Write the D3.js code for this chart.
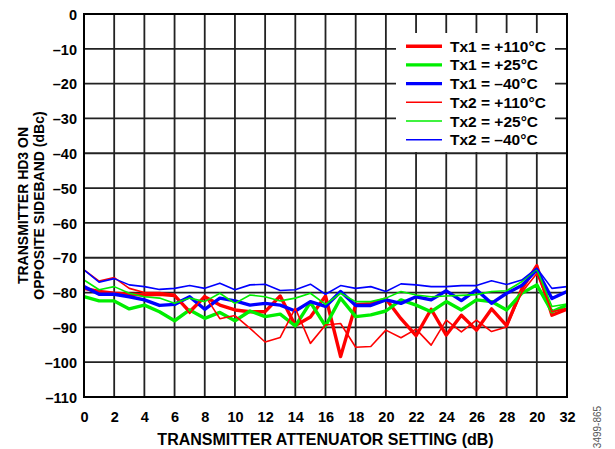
<!DOCTYPE html>
<html>
<head>
<meta charset="utf-8">
<script src="https://cdn.jsdelivr.net/npm/d3@7"></script>
<style>
  html, body { margin: 0; padding: 0; background: #fff; }
  svg { display: block; font-family: "Liberation Sans", Arial, Helvetica, sans-serif; }
</style>
</head>
<body>
<svg id="chart" width="615" height="449"></svg>
<script>
// Attenuator settings (dB) and HD3 on opposite sideband (dBc) per transmitter/temperature
const attenuation = d3.range(0, 33);

const tx1Hot  = [-78.8, -79.7, -80.2, -80.5, -80.7, -80.5, -80.9, -85.5, -81.2, -83.6, -85.0, -85.5, -85.5, -81.0, -89.5, -87.0, -81.0,
                 -98.4, -83.5, -83.2, -81.8, -87.5, -92.4, -84.8, -92.2, -86.5, -90.8, -84.7, -89.5, -79.0, -72.3, -86.5, -84.8];
const tx1Room = [-81.2, -82.4, -82.4, -84.7, -83.6, -85.5, -88.1, -85.0, -87.4, -85.7, -88.1, -85.3, -86.9, -86.2, -89.6, -82.8, -89.6,
                 -81.6, -86.9, -86.4, -85.3, -82.1, -83.6, -85.5, -82.6, -85.0, -82.1, -82.6, -85.0, -80.2, -77.8, -85.5, -83.6];
const tx1Cold = [-78.3, -80.5, -80.5, -81.2, -82.1, -83.7, -83.4, -81.2, -84.8, -81.6, -82.4, -83.6, -83.1, -83.6, -85.3, -82.6, -84.0,
                 -79.7, -83.7, -83.7, -82.1, -83.1, -81.2, -82.1, -79.5, -82.3, -79.2, -83.1, -80.2, -78.0, -73.5, -81.7, -79.7];
const tx2Hot  = [-73.5, -76.7, -75.7, -78.8, -80.0, -80.0, -80.5, -86.0, -80.8, -87.5, -86.6, -90.3, -94.2, -92.9, -84.5, -94.6, -89.3,
                 -88.9, -95.7, -95.5, -90.8, -93.0, -90.5, -95.1, -87.9, -91.3, -87.9, -91.2, -89.9, -80.0, -74.5, -85.5, -84.5];
const tx2Room = [-76.4, -79.2, -78.3, -80.2, -81.2, -81.6, -83.1, -81.6, -82.6, -80.2, -83.1, -80.7, -81.2, -82.4, -81.6, -80.2, -83.4,
                 -80.2, -82.6, -82.6, -81.6, -79.7, -80.7, -81.2, -81.0, -80.8, -80.6, -79.7, -79.5, -76.9, -73.3, -84.0, -83.3];
const tx2Cold = [-73.5, -77.0, -76.0, -77.8, -78.3, -79.1, -78.8, -78.0, -78.8, -77.3, -79.2, -77.8, -77.6, -79.4, -79.2, -77.6, -80.5,
                 -78.0, -78.8, -78.3, -79.7, -77.5, -77.8, -78.3, -78.3, -78.0, -78.0, -76.6, -77.7, -76.4, -73.0, -78.8, -78.3];

const seriesNames = ["Tx1 = +110°C", "Tx1 = +25°C", "Tx1 = –40°C", "Tx2 = +110°C", "Tx2 = +25°C", "Tx2 = –40°C"];

const xTickValues = d3.range(0, 33, 2);
const xTickLabels = ["0", "2", "4", "6", "8", "10", "12", "14", "16", "18", "20", "22", "24", "26", "28", "20", "32"];
const yTickValues = d3.range(0, -111, -10);
const yTickLabels = ["0", "–10", "–20", "–30", "–40", "–50", "–60", "–70", "–80", "–90", "–100", "–110"];

const series = [
  { name: seriesNames[0], values: tx1Hot,  color: "#ff0000", width: 3.4 },
  { name: seriesNames[1], values: tx1Room, color: "#00ee00", width: 3.4 },
  { name: seriesNames[2], values: tx1Cold, color: "#0000ff", width: 3.4 },
  { name: seriesNames[3], values: tx2Hot,  color: "#ff0000", width: 1.6 },
  { name: seriesNames[4], values: tx2Room, color: "#00ee00", width: 1.6 },
  { name: seriesNames[5], values: tx2Cold, color: "#0000ff", width: 1.6 }
];

const svg = d3.select("#chart");
const plot = { left: 84, right: 567, top: 14, bottom: 397 };

const x = d3.scaleLinear().domain([0, 32]).range([plot.left, plot.right]);
const y = d3.scaleLinear().domain([-110, 0]).range([plot.bottom, plot.top]);

// grid
const grid = svg.append("g").attr("stroke", "#222").attr("stroke-width", 1.8);
grid.selectAll("line.v").data(xTickValues.slice(1, -1)).join("line")
  .attr("x1", d => x(d)).attr("x2", d => x(d))
  .attr("y1", plot.top).attr("y2", plot.bottom);
grid.selectAll("line.h").data(yTickValues.slice(1, -1)).join("line")
  .attr("x1", plot.left).attr("x2", plot.right)
  .attr("y1", d => y(d)).attr("y2", d => y(d));

// data lines
const line = d3.line().x((d, i) => x(attenuation[i])).y(d => y(d));
svg.append("g").selectAll("path").data(series).join("path")
  .attr("d", d => line(d.values))
  .attr("fill", "none")
  .attr("stroke", d => d.color)
  .attr("stroke-width", d => d.width)
  .attr("stroke-linejoin", "round");

// legend
const legend = svg.append("g");
legend.append("rect").attr("x", 396).attr("y", 33).attr("width", 159).attr("height", 119).attr("fill", "#fff");
const rows = legend.selectAll("g").data(series).join("g")
  .attr("transform", (d, i) => `translate(0, ${46.2 + i * 18.7})`);
rows.append("line").attr("x1", 406).attr("x2", 442).attr("y1", 0).attr("y2", 0)
  .attr("stroke", d => d.color).attr("stroke-width", d => d.width);
rows.append("text").attr("x", 450).attr("y", 5.5).text(d => d.name)
  .attr("font-size", 15.5).attr("font-weight", "bold").attr("fill", "#000");

// frame
svg.append("rect").attr("x", plot.left).attr("y", plot.top)
  .attr("width", plot.right - plot.left).attr("height", plot.bottom - plot.top)
  .attr("fill", "none").attr("stroke", "#000").attr("stroke-width", 2);

// axes (labels only; frame and grid drawn above)
const xAxis = d3.axisBottom(x).tickValues(xTickValues).tickSize(0).tickPadding(0)
  .tickFormat((d, i) => xTickLabels[i]);
const gx = svg.append("g").attr("transform", `translate(0, ${plot.bottom})`).call(xAxis);
gx.select(".domain").remove();
gx.selectAll("text").attr("dy", null).attr("y", 25)
  .attr("font-size", 14.5).attr("font-weight", "bold").attr("font-family", "Liberation Sans, Arial, sans-serif").attr("fill", "#000");

const yAxis = d3.axisLeft(y).tickValues(yTickValues).tickSize(0).tickPadding(7)
  .tickFormat((d, i) => yTickLabels[i]);
const gy = svg.append("g").attr("transform", `translate(${plot.left}, 0)`).call(yAxis);
gy.select(".domain").remove();
gy.selectAll("text").attr("dy", "0.36em")
  .attr("font-size", 14.5).attr("font-weight", "bold").attr("font-family", "Liberation Sans, Arial, sans-serif").attr("fill", "#000");

// axis titles
svg.append("text").attr("x", (plot.left + plot.right) / 2).attr("y", 445)
  .attr("text-anchor", "middle").attr("font-size", 16).attr("font-weight", "bold")
  .text("TRANSMITTER ATTENUATOR SETTING (dB)");

const yTitle = svg.append("text").attr("transform", `translate(0, ${(plot.top + plot.bottom) / 2}) rotate(-90)`)
  .attr("text-anchor", "middle").attr("font-size", 14).attr("font-weight", "bold");
yTitle.append("tspan").attr("x", 0).attr("y", 28).text("TRANSMITTER HD3 ON");
yTitle.append("tspan").attr("x", 0).attr("y", 44).text("OPPOSITE SIDEBAND (dBc)");

// figure code
svg.append("text").attr("transform", "translate(601, 427) rotate(-90)")
  .attr("text-anchor", "middle").attr("font-size", 10).attr("fill", "#555")
  .text("3499-865");
</script>
</body>
</html>
